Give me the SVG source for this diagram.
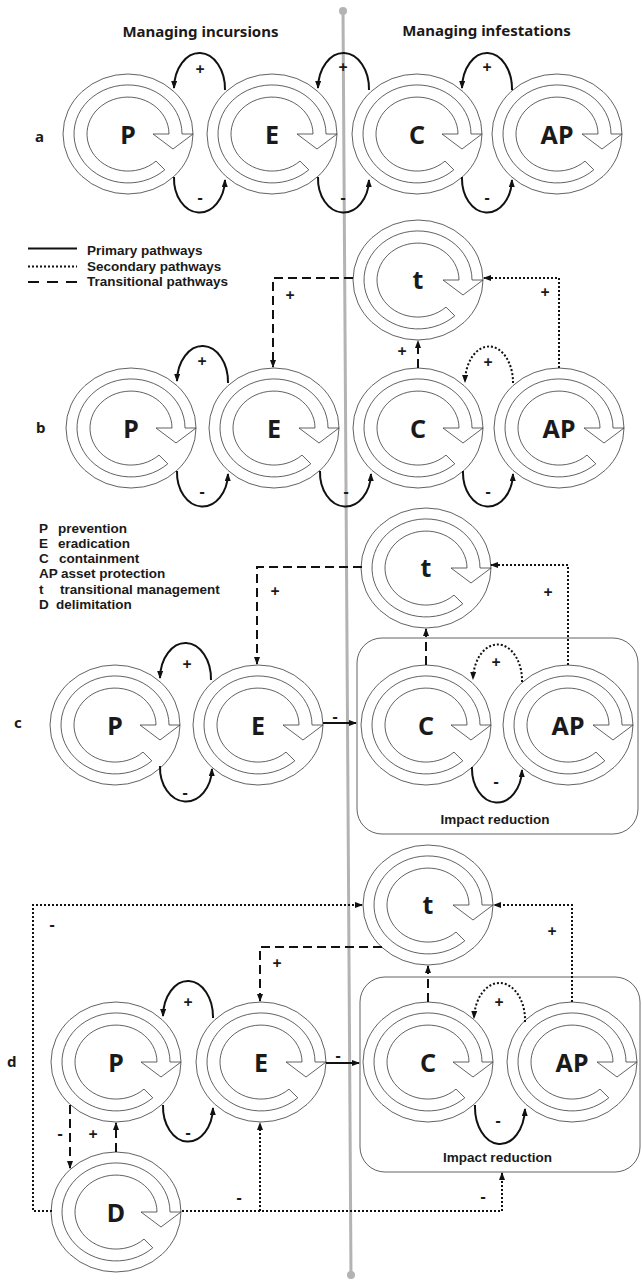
<svg xmlns="http://www.w3.org/2000/svg" xmlns:xlink="http://www.w3.org/1999/xlink" width="642" height="1281" viewBox="0 0 642 1281">
<style>
.ol{fill:#fff;stroke:#3a3a3a;stroke-width:0.8}
.ring{fill:#fff;stroke:#3a3a3a;stroke-width:0.8}
.nl{font-family:"Noto Sans","Open Sans",sans-serif;font-weight:bold;font-size:25px;text-anchor:middle;fill:#1a1a1a}
.hd{font-family:"Noto Sans","Open Sans",sans-serif;font-weight:bold;font-size:15px;text-anchor:middle;fill:#1a1a1a}
.lg{font-family:"Liberation Sans",Arial,sans-serif;font-weight:bold;font-size:13.5px;fill:#1a1a1a}
.rl{font-family:"Noto Sans","Open Sans",sans-serif;font-weight:bold;font-size:15px;fill:#1a1a1a}
.sg{font-family:"Noto Sans","Open Sans",sans-serif;font-weight:bold;font-size:16px;text-anchor:middle;fill:#1a1a1a}
.pri{fill:none;stroke:#111;stroke-width:2}
.sec{fill:none;stroke:#111;stroke-width:2;stroke-dasharray:2 2}
.tra{fill:none;stroke:#111;stroke-width:2;stroke-dasharray:9 5}
.arr{marker-end:url(#ah)}
.box{fill:none;stroke:#3a3a3a;stroke-width:0.8}
</style>
<defs>
<marker id="ah" viewBox="0 0 8 6" refX="7" refY="3" markerWidth="8" markerHeight="6" orient="auto" markerUnits="userSpaceOnUse"><path d="M0,0 L8,3 L0,6 z" fill="#111"/></marker>
<g id="cyc">
<ellipse rx="65" ry="60" class="ol"/>
<path class="ring" d="M36.8,35.8 A54,49 0 1 1 54,0 L65,0 L45,15 L25,0 L41,0 A41,37 0 1 0 28,27.1 Z"/>
</g>
</defs>
<rect width="642" height="1281" fill="#fff"/>
<g id="divider">
<line x1="343" y1="11" x2="351" y2="1275" stroke="#b3b3b3" stroke-width="3"/>
<circle cx="343" cy="11" r="4" fill="#b3b3b3"/>
<circle cx="351" cy="1275" r="4" fill="#b3b3b3"/>
</g>
<g id="headers">
<text class="hd" x="200.5" y="37">Managing incursions</text>
<text class="hd" x="486.5" y="36">Managing infestations</text>
<text class="rl" x="35" y="142">a</text>
<text class="rl" x="36" y="433">b</text>
<text class="rl" x="14" y="728">c</text>
<text class="rl" x="7" y="1067">d</text>
</g>
<g id="legend">
<line x1="28" y1="248.5" x2="77" y2="248.5" class="pri"/>
<line x1="28" y1="266.5" x2="77" y2="266.5" class="sec"/>
<line x1="28" y1="282" x2="77" y2="282" fill="none" stroke="#111" stroke-width="2" stroke-dasharray="11 8"/>
<text class="lg" x="87" y="255">Primary pathways</text>
<text class="lg" x="87" y="270.5">Secondary pathways</text>
<text class="lg" x="87" y="286">Transitional pathways</text>
<text class="lg" x="39" y="532.5">P <tspan x="58">prevention</tspan></text>
<text class="lg" x="39" y="548">E <tspan x="58">eradication</tspan></text>
<text class="lg" x="39" y="563">C <tspan x="59">containment</tspan></text>
<text class="lg" x="39" y="578">AP <tspan x="61">asset protection</tspan></text>
<text class="lg" x="39" y="594">t <tspan x="60">transitional management</tspan></text>
<text class="lg" x="39" y="609">D <tspan x="56">delimitation</tspan></text>
</g>
<g id="boxes">
<rect id="c-impact" class="box" x="357" y="638" width="281" height="196" rx="25"/>
<text class="lg" x="495" y="824" text-anchor="middle">Impact reduction</text>
<rect id="d-impact" class="box" x="360" y="977" width="280" height="195" rx="25"/>
<text class="lg" x="497.5" y="1162" text-anchor="middle">Impact reduction</text>
</g>
<g id="a-P" transform="translate(128,134)"><use xlink:href="#cyc"/><text class="nl" y="10">P</text></g>
<g id="a-E" transform="translate(272,134)"><use xlink:href="#cyc"/><text class="nl" y="10">E</text></g>
<g id="a-C" transform="translate(417,134)"><use xlink:href="#cyc"/><text class="nl" y="10">C</text></g>
<g id="a-AP" transform="translate(557,134)"><use xlink:href="#cyc"/><text class="nl" y="10">AP</text></g>
<g id="b-t" transform="translate(418,280)"><use xlink:href="#cyc"/><text class="nl" y="9">t</text></g>
<g id="b-P" transform="translate(131,428)"><use xlink:href="#cyc"/><text class="nl" y="10">P</text></g>
<g id="b-E" transform="translate(274,428)"><use xlink:href="#cyc"/><text class="nl" y="10">E</text></g>
<g id="b-C" transform="translate(418,428)"><use xlink:href="#cyc"/><text class="nl" y="10">C</text></g>
<g id="b-AP" transform="translate(559,428)"><use xlink:href="#cyc"/><text class="nl" y="10">AP</text></g>
<g id="c-t" transform="translate(426,568)"><use xlink:href="#cyc"/><text class="nl" y="9">t</text></g>
<g id="c-P" transform="translate(115,725)"><use xlink:href="#cyc"/><text class="nl" y="10">P</text></g>
<g id="c-E" transform="translate(258,725)"><use xlink:href="#cyc"/><text class="nl" y="10">E</text></g>
<g id="c-C" transform="translate(426,725)"><use xlink:href="#cyc"/><text class="nl" y="10">C</text></g>
<g id="c-AP" transform="translate(568,725)"><use xlink:href="#cyc"/><text class="nl" y="10">AP</text></g>
<g id="d-t" transform="translate(428,905)"><use xlink:href="#cyc"/><text class="nl" y="9">t</text></g>
<g id="d-P" transform="translate(116,1062)"><use xlink:href="#cyc"/><text class="nl" y="10">P</text></g>
<g id="d-E" transform="translate(261,1062)"><use xlink:href="#cyc"/><text class="nl" y="10">E</text></g>
<g id="d-C" transform="translate(428,1062)"><use xlink:href="#cyc"/><text class="nl" y="10">C</text></g>
<g id="d-AP" transform="translate(572,1062)"><use xlink:href="#cyc"/><text class="nl" y="10">AP</text></g>
<g id="d-D" transform="translate(116,1212)"><use xlink:href="#cyc"/><text class="nl" y="10">D</text></g>
<g id="connectors">
<path class="pri arr" d="M225,90 A25.5,36 0 0 0 174,88"/>
<path class="pri arr" d="M369,90 A25.5,36 0 0 0 318,88"/>
<path class="pri arr" d="M512,90 A25,36 0 0 0 462,88"/>
<path class="pri arr" d="M174,177 A25.5,34 0 0 0 225,180"/>
<path class="pri arr" d="M318,177 A25.5,34 0 0 0 369,180"/>
<path class="pri arr" d="M462,177 A25,34 0 0 0 512,180"/>
<path class="pri arr" d="M228,383 A25.5,36 0 0 0 177,381"/>
<path class="sec arr" d="M513,383 A24,36 0 0 0 465,382"/>
<path class="pri arr" d="M177,471 A25.5,34 0 0 0 228,474"/>
<path class="pri arr" d="M320,471 A25.5,34 0 0 0 371,474"/>
<path class="pri arr" d="M463,471 A25,34 0 0 0 513,474"/>
<path class="tra arr" d="M353,278 H273 V367"/>
<path class="tra arr" d="M418,368 V341"/>
<path class="sec arr" d="M559,368 V278 H484"/>
<path class="pri arr" d="M211,680 A25.5,36 0 0 0 160,678"/>
<path class="pri arr" d="M160,766 A26,34 0 0 0 212,769"/>
<path class="sec arr" d="M522,682 A24.5,36 0 0 0 473,679"/>
<path class="pri arr" d="M472,767 A25,34 0 0 0 522,770"/>
<path class="tra arr" d="M362,567 H257 V664"/>
<path class="pri arr" d="M323,723 H356"/>
<path class="tra arr" d="M426,665 V629"/>
<path class="sec arr" d="M568,665 V565 H491"/>
<path class="pri arr" d="M213,1018 A25,36 0 0 0 163,1016"/>
<path class="pri arr" d="M163,1105 A25,35 0 0 0 213,1108"/>
<path class="sec arr" d="M525,1022 A25.5,37 0 0 0 474,1018"/>
<path class="pri arr" d="M475,1105 A25,37 0 0 0 525,1109"/>
<path class="sec arr" d="M52,1211 H33 V905 H362"/>
<path class="sec arr" d="M182,1211 H502 V1173"/>
<path class="sec arr" d="M260,1211 V1123"/>
<path class="tra arr" d="M382,947 H260 V1001"/>
<path class="tra arr" d="M70,1105 V1168"/>
<path class="tra arr" d="M116,1152 V1123"/>
<path class="pri arr" d="M326,1063 H359"/>
<path class="tra arr" d="M428,1002 V966"/>
<path class="sec arr" d="M572,1002 V905 H494"/>
</g>
<g id="connector-labels">
<text class="sg" x="200" y="75">+</text>
<text class="sg" x="343" y="73">+</text>
<text class="sg" x="487" y="73">+</text>
<text class="sg" x="200" y="203">-</text>
<text class="sg" x="343" y="203">-</text>
<text class="sg" x="487" y="203">-</text>
<text class="sg" x="202" y="367">+</text>
<text class="sg" x="488" y="368">+</text>
<text class="sg" x="290" y="301">+</text>
<text class="sg" x="402" y="357">+</text>
<text class="sg" x="545" y="298">+</text>
<text class="sg" x="202" y="497">-</text>
<text class="sg" x="346" y="497">-</text>
<text class="sg" x="488" y="497">-</text>
<text class="sg" x="187" y="670">+</text>
<text class="sg" x="185" y="798">-</text>
<text class="sg" x="275" y="597">+</text>
<text class="sg" x="335" y="722">-</text>
<text class="sg" x="548" y="598">+</text>
<text class="sg" x="496" y="668">+</text>
<text class="sg" x="496" y="787">-</text>
<text class="sg" x="52" y="930">-</text>
<text class="sg" x="277" y="969">+</text>
<text class="sg" x="188" y="1008">+</text>
<text class="sg" x="188" y="1138">-</text>
<text class="sg" x="60" y="1139">-</text>
<text class="sg" x="93" y="1140">+</text>
<text class="sg" x="239" y="1203">-</text>
<text class="sg" x="483" y="1202">-</text>
<text class="sg" x="338" y="1061">-</text>
<text class="sg" x="499" y="1008">+</text>
<text class="sg" x="552" y="937">+</text>
<text class="sg" x="498" y="1126">-</text>
</g>
</svg>
